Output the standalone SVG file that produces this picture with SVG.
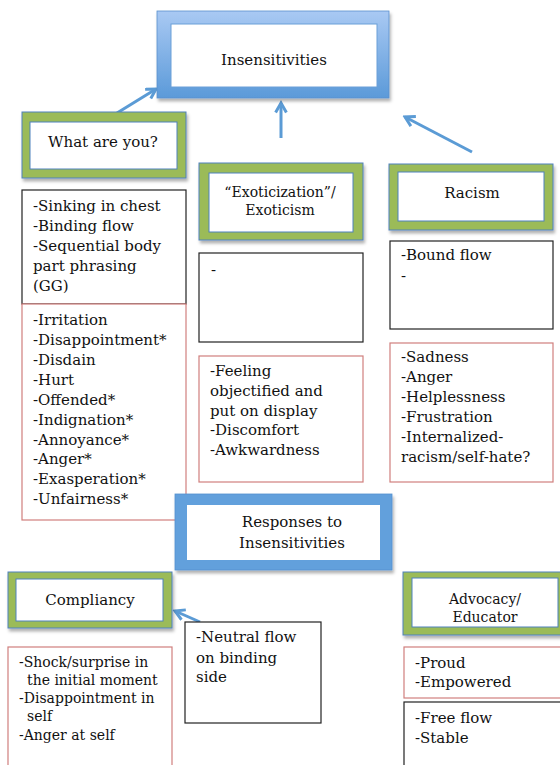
<svg xmlns="http://www.w3.org/2000/svg" width="560" height="765" viewBox="0 0 560 765">
  <style>
    text { font-family: "DejaVu Serif", "Liberation Serif", serif; fill: #111; }
    .lbl { font-size: 15px; text-anchor: middle; }
    .sm { font-size: 14px; text-anchor: middle; }
    .lst { font-size: 15px; }
    .lst14 { font-size: 14px; }
    .green { fill: #9bbb59; stroke: #4f81bd; stroke-width: 1; }
    .inner { fill: #fff; stroke: #4f81bd; stroke-width: 1; }
    .blk { fill: #fff; stroke: #222; stroke-width: 1.2; }
    .red { fill: #fff; stroke: #d07f7d; stroke-width: 1.2; }
    .conn { stroke: #5b9bd5; stroke-width: 3; fill: none; marker-end: url(#head); }
  </style>
  <defs>
    <linearGradient id="blueGrad" x1="0" y1="0" x2="0" y2="1">
      <stop offset="0" stop-color="#a9c9f3"/>
      <stop offset="1" stop-color="#5b9ad9"/>
    </linearGradient>
    <filter id="shadow" x="-10%" y="-10%" width="125%" height="130%">
      <feDropShadow dx="1.5" dy="3" stdDeviation="1.5" flood-color="#000" flood-opacity="0.3"/>
    </filter>
    <marker id="head" viewBox="0 0 10 10" refX="8" refY="5" markerWidth="4.5" markerHeight="4.5" orient="auto" markerUnits="strokeWidth">
      <path d="M1,1 L8,5 L1,9" fill="none" stroke="#5b9bd5" stroke-width="2.2"/>
    </marker>
  </defs>

  <!-- connectors -->
  <g id="connectors">
    <line class="conn" x1="117" y1="113" x2="156" y2="89"/>
    <line class="conn" x1="281" y1="138" x2="281" y2="103"/>
    <line class="conn" x1="472" y1="152" x2="405" y2="117"/>
    <line class="conn" x1="200" y1="622" x2="175" y2="611"/>
  </g>

  <g id="insensitivities">
    <rect x="157" y="11" width="232" height="87" fill="url(#blueGrad)" stroke="#5b8fce" stroke-width="0.8" filter="url(#shadow)"/>
    <rect x="171" y="24" width="206" height="63" fill="#fff" stroke="#6b9fd8" stroke-width="1"/>
    <text class="lbl" x="274" y="65">Insensitivities</text>
  </g>

  <g id="what-are-you">
    <rect class="green" x="22" y="112" width="164" height="66" filter="url(#shadow)"/>
    <rect class="inner" x="30" y="122" width="147" height="47"/>
    <text class="lbl" x="103" y="147">What are you?</text>
  </g>

  <g id="exoticization">
    <rect class="green" x="199" y="163" width="164" height="77" filter="url(#shadow)"/>
    <rect class="inner" x="209" y="173" width="144" height="59"/>
    <text class="sm" x="280" y="197">“Exoticization”/</text>
    <text class="sm" x="280" y="215">Exoticism</text>
  </g>

  <g id="racism">
    <rect class="green" x="389" y="164" width="164" height="66" filter="url(#shadow)"/>
    <rect class="inner" x="398" y="172" width="146" height="49"/>
    <text class="lbl" x="472" y="198">Racism</text>
  </g>

  <g id="what-body">
    <rect class="blk" x="22" y="190" width="164" height="114"/>
    <text class="lst" x="33" y="211">-Sinking in chest</text>
    <text class="lst" x="33" y="231">-Binding flow</text>
    <text class="lst" x="33" y="251">-Sequential body</text>
    <text class="lst" x="33" y="271">part phrasing</text>
    <text class="lst" x="33" y="291">(GG)</text>
  </g>

  <g id="what-feelings">
    <rect class="red" x="22" y="304" width="164" height="216"/>
    <text class="lst" x="33" y="325">-Irritation</text>
    <text class="lst" x="33" y="345">-Disappointment*</text>
    <text class="lst" x="33" y="365">-Disdain</text>
    <text class="lst" x="33" y="385">-Hurt</text>
    <text class="lst" x="33" y="405">-Offended*</text>
    <text class="lst" x="33" y="425">-Indignation*</text>
    <text class="lst" x="33" y="445">-Annoyance*</text>
    <text class="lst" x="33" y="464">-Anger*</text>
    <text class="lst" x="33" y="484">-Exasperation*</text>
    <text class="lst" x="33" y="504">-Unfairness*</text>
  </g>

  <g id="exo-body">
    <rect class="blk" x="199" y="253" width="164" height="89"/>
    <text class="lst" x="211" y="275">-</text>
  </g>

  <g id="exo-feelings">
    <rect class="red" x="199" y="356" width="164" height="126"/>
    <text class="lst" x="210" y="376">-Feeling</text>
    <text class="lst" x="210" y="396">objectified and</text>
    <text class="lst" x="210" y="416">put on display</text>
    <text class="lst" x="210" y="435">-Discomfort</text>
    <text class="lst" x="210" y="455">-Awkwardness</text>
  </g>

  <g id="racism-body">
    <rect class="blk" x="390" y="241" width="163" height="88"/>
    <text class="lst" x="401" y="260">-Bound flow</text>
    <text class="lst" x="401" y="281">-</text>
  </g>

  <g id="racism-feelings">
    <rect class="red" x="390" y="343" width="163" height="139"/>
    <text class="lst" x="401" y="362">-Sadness</text>
    <text class="lst" x="401" y="382">-Anger</text>
    <text class="lst" x="401" y="402">-Helplessness</text>
    <text class="lst" x="401" y="422">-Frustration</text>
    <text class="lst" x="401" y="442">-Internalized-</text>
    <text class="lst" x="401" y="462">racism/self-hate?</text>
  </g>

  <g id="responses">
    <rect x="175" y="494" width="217" height="76" fill="#62a0dc" stroke="#5590cf" stroke-width="0.8" filter="url(#shadow)"/>
    <rect x="187" y="505" width="193" height="55" fill="#fff"/>
    <text class="lbl" x="292" y="527">Responses to</text>
    <text class="lbl" x="292" y="548">Insensitivities</text>
  </g>

  <g id="compliancy">
    <rect class="green" x="8" y="572" width="164" height="56" filter="url(#shadow)"/>
    <rect class="inner" x="16" y="579" width="147" height="42"/>
    <text class="lbl" x="90" y="605">Compliancy</text>
  </g>

  <g id="neutral-flow">
    <rect class="blk" x="185" y="622" width="136" height="101"/>
    <text class="lst" x="196" y="642">-Neutral flow</text>
    <text class="lst" x="196" y="663">on binding</text>
    <text class="lst" x="196" y="682">side</text>
  </g>

  <g id="compliancy-feelings">
    <rect class="red" x="8" y="647" width="164" height="125"/>
    <text class="lst14" x="19" y="667">-Shock/surprise in</text>
    <text class="lst14" x="27" y="685">the initial moment</text>
    <text class="lst14" x="19" y="703">-Disappointment in</text>
    <text class="lst14" x="27" y="721">self</text>
    <text class="lst14" x="19" y="740">-Anger at self</text>
  </g>

  <g id="advocacy">
    <rect class="green" x="403" y="572" width="162" height="63" filter="url(#shadow)"/>
    <rect class="inner" x="412" y="578" width="146" height="49"/>
    <text class="sm" x="485" y="604">Advocacy/</text>
    <text class="sm" x="485" y="622">Educator</text>
  </g>

  <g id="advocacy-feelings">
    <rect class="red" x="404" y="647" width="162" height="51"/>
    <text class="lst" x="415" y="668">-Proud</text>
    <text class="lst" x="415" y="687">-Empowered</text>
  </g>

  <g id="advocacy-body">
    <rect class="blk" x="404" y="702" width="162" height="70"/>
    <text class="lst" x="415" y="723">-Free flow</text>
    <text class="lst" x="415" y="743">-Stable</text>
  </g>
</svg>
